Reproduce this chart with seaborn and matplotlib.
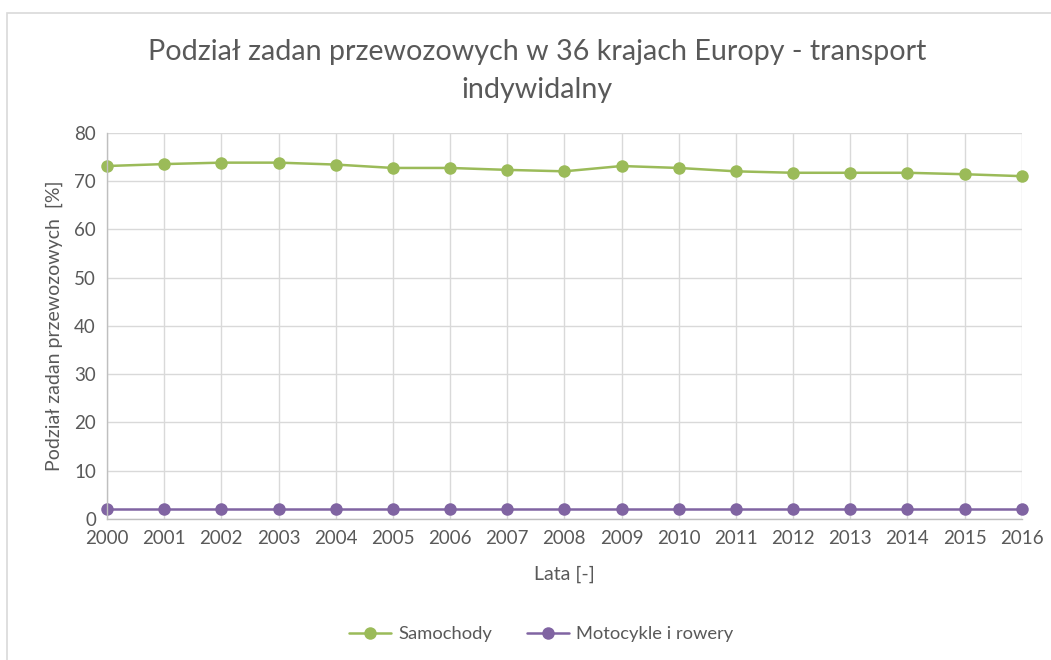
import matplotlib
matplotlib.use('Agg')
import matplotlib.pyplot as plt
import pandas as pd
import seaborn as sns
from matplotlib.patches import Rectangle

# Data
years = list(range(2000, 2017))
samochody = [73.1, 73.5, 73.8, 73.8, 73.4, 72.7, 72.7, 72.3, 72.0,
             73.1, 72.7, 72.0, 71.7, 71.7, 71.7, 71.4, 71.0]
motocykle = [2.0] * 17
series_names = ['Samochody', 'Motocykle i rowery']
colors = ['#9BBB59', '#8064A2']

df = pd.DataFrame({'year': years * 2,
                   'value': samochody + motocykle,
                   'series': [series_names[0]] * 17 + [series_names[1]] * 17})

sns.set_style('white')
plt.rcParams['font.family'] = ['Lato', 'DejaVu Sans']
txt = '#595959'
grid = '#d9d9d9'

fig = plt.figure(figsize=(10.51, 6.60), dpi=100)
ax = fig.add_axes([107 / 1051, 1 - 519 / 660, (1021.7 - 107) / 1051, (519 - 132.7) / 660])

sns.lineplot(data=df, x='year', y='value', hue='series', palette=colors,
             marker='o', markersize=9, markeredgewidth=0, linewidth=1.8,
             ax=ax, legend=False)

ax.set_xlim(2000, 2016)
ax.set_ylim(0, 80)
ax.set_xticks(years)
ax.set_yticks(range(0, 81, 10))
ax.tick_params(axis='both', length=0, labelsize=13.5, colors=txt, pad=8)
ax.grid(True, color=grid, linewidth=1)
ax.set_axisbelow(True)
for s in ['top', 'right']:
    ax.spines[s].set_visible(False)
for s in ['left', 'bottom']:
    ax.spines[s].set_color('#bfbfbf')
    ax.spines[s].set_linewidth(1)
for line in ax.get_lines():
    line.set_clip_on(False)

ax.set_xlabel('Lata [-]', fontsize=14, color=txt, labelpad=13)
ax.set_ylabel('Podział zadan przewozowych  [%]', fontsize=14, color=txt, labelpad=8)

fig.text(537 / 1051, 1 - 52 / 660, 'Podział zadan przewozowych w 36 krajach Europy - transport',
         ha='center', va='center', fontsize=20.6, color=txt)
fig.text(537 / 1051, 1 - 90 / 660, 'indywidalny',
         ha='center', va='center', fontsize=20.6, color=txt)

# legend
handles = [plt.Line2D([], [], color=c, marker='o', markersize=9, markeredgewidth=0, linewidth=1.8)
           for c in colors]
fig.legend(handles, series_names, loc='center', bbox_to_anchor=(541 / 1051, 1 - 634 / 660),
           ncol=2, frameon=False, fontsize=13.2, labelcolor=txt, handlelength=2.3,
           columnspacing=1.9, handletextpad=0.4)

# chart border
fig.patches.append(Rectangle((7 / 1051, -0.1), 1.1, 1 - 13 / 660 + 0.1, transform=fig.transFigure,
                             fill=False, edgecolor='#d9d9d9', linewidth=1.2))

fig.savefig('out.png', dpi=100)
